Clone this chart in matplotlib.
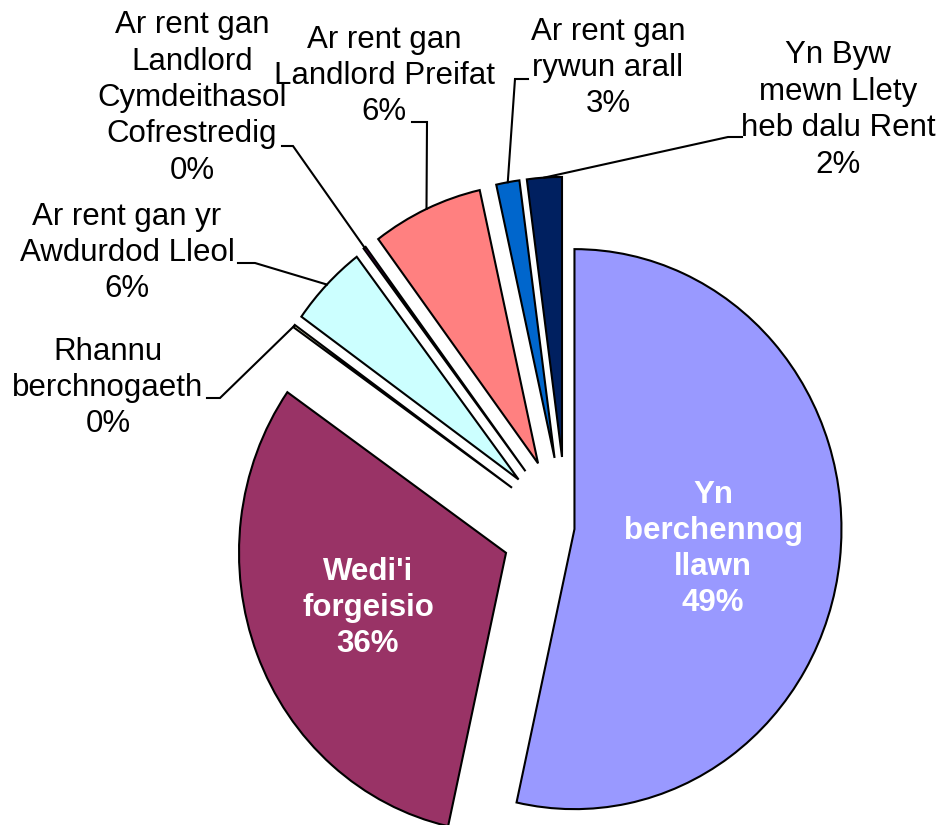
import matplotlib
matplotlib.use('Agg')
import matplotlib.pyplot as plt
import numpy as np

plt.rcParams['font.family'] = ['Liberation Sans', 'DejaVu Sans']

# slice sizes as drawn (share of the circle, %), and the printed labels
categories = ['Yn\nberchennog\nllawn', "Wedi'i\nforgeisio", 'Rhannu\nberchnogaeth',
              'Ar rent gan yr\nAwdurdod Lleol',
              'Ar rent gan\nLandlord\nCymdeithasol\nCofrestredig',
              'Ar rent gan\nLandlord Preifat', 'Ar rent gan\nrywun arall',
              'Yn Byw\nmewn Llety\nheb dalu Rent']
shares = [53.4, 31.2, 0.15, 4.75, 0.15, 6.7, 1.4, 2.1]
pct_labels = ['49%', '36%', '0%', '6%', '0%', '6%', '3%', '2%']
colors = ['#9999FF', '#993366', '#FFFFCC', '#CCFFFF', '#660066', '#FF8080', '#0066CC', '#002060']
explode = [0.03, 0.243, 0.25, 0.25, 0.255, 0.255, 0.255, 0.255]

W, H = 952, 825
SY = 1.0487  # picture is a little taller than wide
R = 267


def img(x, y):
    # picture pixel -> data coords
    return x, (H - y) / SY


fig = plt.figure(figsize=(W / 100, H / 100), dpi=100)
ax = fig.add_axes([0, 0, 1, 1])

# explode in pie() is absolute, so scale by the radius
wedges, _ = ax.pie(shares, colors=colors, explode=[e * R for e in explode], startangle=90,
                   counterclock=False, center=(566.5, 283), radius=R,
                   wedgeprops=dict(edgecolor='black', linewidth=1.5))
ax.set_aspect('auto')
ax.set_xlim(0, W)
ax.set_ylim(0, H / SY)
ax.axis('off')

# labels inside the two big slices
inner = {0: (713, 549), 1: (368, 608)}
for i, (x, y) in inner.items():
    ax.text(*img(x, y), categories[i] + '\n' + pct_labels[i], ha='center', va='center',
            color='white', fontsize=22.5, fontweight='bold', linespacing=1.27)

# outside labels: text centre, end of text, knee of the leader
outer = {
    2: ((108, 388), (207, 398), (220, 398)),
    3: ((127, 253), (238, 263), (255, 263)),
    4: ((192, 98), (282, 146), (293, 146)),
    5: ((384, 76), (412, 122), (427, 122)),
    6: ((608, 68), (528, 79), (515, 79)),
    7: ((838, 110), (742, 137), (728, 137)),
}
for i, (txt, start, knee) in outer.items():
    ax.text(*img(*txt), categories[i] + '\n' + pct_labels[i], ha='center', va='center',
            color='black', fontsize=22.5, linespacing=1.28)
    w = wedges[i]
    mid = np.deg2rad((w.theta1 + w.theta2) / 2)
    ex = w.center[0] + w.r * np.cos(mid)
    ey = w.center[1] + w.r * np.sin(mid)
    sx, sy = img(*start)
    kx, ky = img(*knee)
    ax.plot([sx, kx, ex], [sy, ky, ey], color='black', lw=1.5, solid_joinstyle='miter')

fig.savefig('out.png', dpi=100)
